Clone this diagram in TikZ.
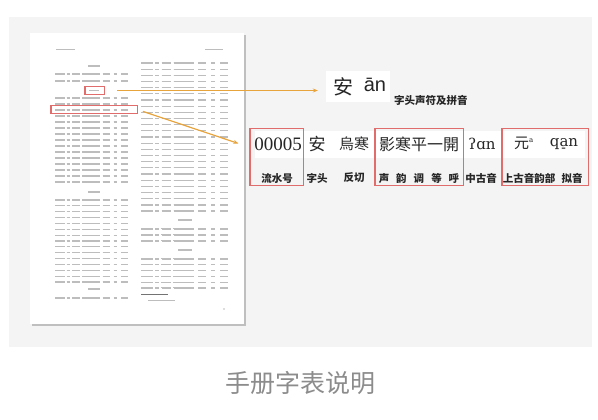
\documentclass[tikz,border=0pt]{standalone}
\usepackage{fontspec}
\setmainfont{Liberation Serif}
\newfontfamily\cjkfont{Noto Sans CJK SC}
\newfontfamily\ipafont{DejaVu Serif}
\newfontfamily\pinyinfont{Liberation Sans}
\definecolor{panelgray}{HTML}{F4F4F4}
\definecolor{markred}{HTML}{E06C6C}
\definecolor{arroworange}{HTML}{E8A43C}
\definecolor{captiongray}{HTML}{8C8C8C}
\definecolor{inkgray}{HTML}{BDBDBD}
\usetikzlibrary{arrows.meta,positioning}

% one line of the tiny table on the page: x, y, stretch
\newcommand{\pagerow}[3]{%
  \foreach \a/\c in {0/9,11/14,16/23,25/41,44/50,54/57,61/67}
    \draw[inkbar] ({#1+#3*\a},#2) -- ({#1+#3*\c},#2);}

\begin{document}
\begin{tikzpicture}[x=1pt,y=-1pt,
  inkbar/.style={line width=1.2pt,inkgray},
  markbox/.style={inner sep=0pt},
  markline/.style={markred,line width=1.4pt},
  pointer/.style={arroworange,line width=1.2pt,-{Stealth[length=5pt,width=4pt]}},
  cell/.style={inner sep=0pt,text=black!85},
  tag/.style={inner sep=0pt,text=black!85,font=\cjkfont\bfseries\fontsize{10.5}{10.5}\selectfont}]
  \useasboundingbox (0,0) rectangle (598,420);
  \fill[white] (0,0) rectangle (598,420);
  \fill[panelgray] (9,17) rectangle (592,347);

  % the page
  \fill[black!25] (32,35) rectangle (246,326);
  \fill[white] (30,33) rectangle (244,324);
  \draw[inkbar,line width=0.9pt] (56,49) -- (75,49);
  \draw[inkbar,line width=0.9pt] (205,49) -- (223,49);
  \foreach \y in {66,192,289} \draw[inkbar] (88,\y) -- (100,\y);
  \draw[inkbar] (89,90.5) -- (99,90.5);
  \foreach \y in {220,250} \draw[inkbar] (178,\y) -- (192,\y);
  \foreach \y in {74,81,298} \pagerow{55}{\y}{1.09}
  \foreach \i in {0,...,14} {
    \pagerow{55}{98+6*\i}{1.09}
    \pagerow{55}{200+5.86*\i}{1.09}
  }
  \foreach \i in {0,...,24} \pagerow{141}{63+6.17*\i}{1.3}
  \foreach \y in {229,235,241} \pagerow{141}{\y}{1.3}
  \foreach \i in {0,...,5} \pagerow{141}{259+5.8*\i}{1.3}
  \draw[black!55,line width=0.6pt] (141,294) -- (168,294);
  \draw[inkbar,line width=0.9pt] (148,300) -- (175,300);
  \fill[inkgray] (224,309) circle (0.8pt);

  % head character with pinyin
  \node[fill=white,minimum width=64pt,minimum height=31pt,inner sep=0pt] (headbox) at (358,86.5) {};
  \node[cell,font=\cjkfont\fontsize{20}{20}\selectfont] (headchar) at (343,87) {安};
  \node[cell,font=\pinyinfont\fontsize{20}{20}\selectfont] (headpy) at (375,85) {ān};
  \node[tag,anchor=west] (headtag) at (394,100) {字头声符及拼音};

  % one entry, field by field
  \fill[white] (255,131) rectangle (585,158);
  \node[cell,font=\fontsize{19}{19}\selectfont] (num) at (278,144) {00005};
  \node[cell,font=\cjkfont\fontsize{17}{17}\selectfont] (zitou) at (317,144) {安};
  \node[cell,font=\cjkfont\fontsize{15}{15}\selectfont] (fanqie) at (354,144) {烏寒};
  \node[cell,font=\cjkfont\fontsize{16}{16}\selectfont] (mctone) at (419,144) {影寒平一開};
  \node[cell,font=\ipafont\fontsize{15}{15}\selectfont] (mcipa) at (482,144) {ʔɑn};
  \node[cell,font=\cjkfont\fontsize{15}{15}\selectfont] (ocrhyme) at (524,143) {元\textsuperscript{\fontsize{7}{7}\selectfont\ipafont a}};
  \node[cell,font=\ipafont\fontsize{15}{15}\selectfont] (ocipa) at (564,144) {qa̠n};

  \node[tag] (numtag) at (277,178) {流水号};
  \node[tag] (zitoutag) at (317,178) {字头};
  \node[tag] (fanqietag) at (354,178) {反切};
  \node[tag] (mctonetag) at (419,178) {声\hskip7pt 韵\hskip7pt 调\hskip7pt 等\hskip7pt 呼};
  \node[tag] (mcipatag) at (481,178) {中古音};
  \node[tag] (ocrhymetag) at (529,178) {上古音韵部};
  \node[tag] (ocipatag) at (572,178) {拟音};

  % red marks
  \node[markbox,minimum width=19pt,minimum height=8pt] (anhead) at (94.5,90.5) {};
  \node[markbox,minimum width=86pt,minimum height=7.5pt] (anrow) at (94,109.5) {};
  \node[markbox,minimum width=53pt,minimum height=56pt] (numbox) at (276.5,157) {};
  \node[markbox,minimum width=88pt,minimum height=56pt] (tonebox) at (419,157) {};
  \node[markbox,minimum width=86pt,minimum height=56pt] (oldbox) at (545,157) {};
  \foreach \m in {anhead,anrow,numbox,tonebox,oldbox}
    \draw[markline] (\m.north west) rectangle (\m.south east);

  \draw[pointer,shorten <=13pt,shorten >=8pt] (anhead.east) -- (anhead.east -| headbox.west);
  \draw[pointer,shorten <=6pt,shorten >=12pt] (anrow.east) -- (numbox.160);

  \node[text=captiongray,inner sep=0pt,font=\cjkfont\fontsize{25}{25}\selectfont] (caption) at (300,383) {手册字表说明};
\end{tikzpicture}
\end{document}
